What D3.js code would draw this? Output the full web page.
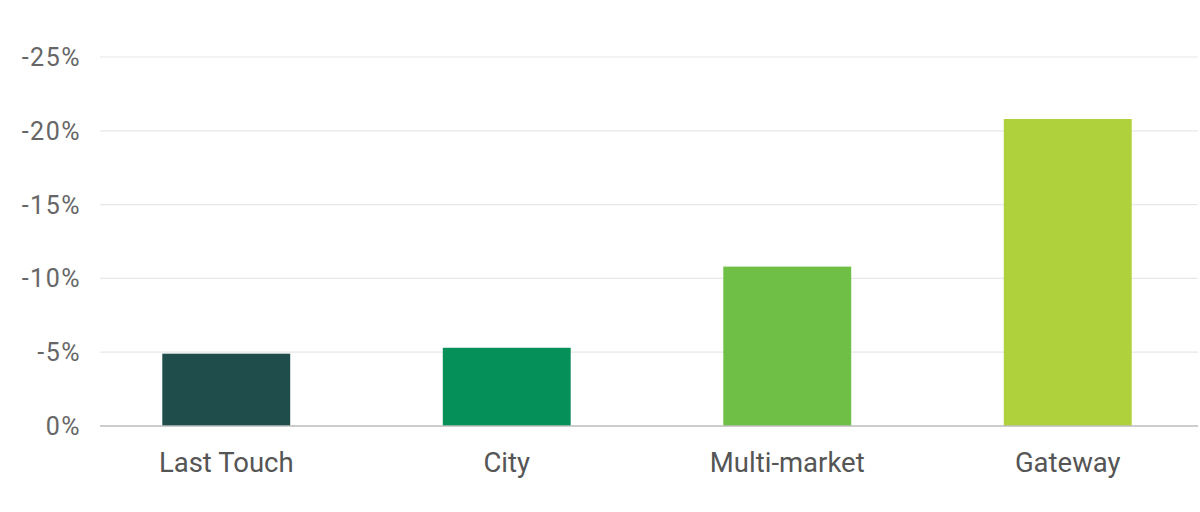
<!DOCTYPE html>
<html><head><meta charset="utf-8">
<script src="https://cdn.jsdelivr.net/npm/d3@7"></script>
<style>body{margin:0;background:#fff;}svg{display:block;font-family:"Roboto","Liberation Sans",Arial,sans-serif;}</style>
</head><body><svg id="c" width="1200" height="512"></svg>
<script>
const categories = ["Last Touch", "City", "Multi-market", "Gateway"];
const values = [-4.9, -5.3, -10.8, -20.8];
const colors = ["#1e4d4b", "#05905a", "#6fbe46", "#afd13b"];
const yTicks = [0, -5, -10, -15, -20, -25];

const svg = d3.select("#c");
const x = d3.scaleBand().domain(categories).range([86, 1208]).paddingInner(0.544).paddingOuter(0.272);
const y = d3.scaleLinear().domain([0, -25]).range([426, 57]);
const gx0 = 100, gx1 = 1198;

svg.append("g").selectAll("line").data(yTicks.filter(d => d !== 0)).join("line")
  .attr("x1", gx0).attr("x2", gx1).attr("y1", d => y(d)).attr("y2", d => y(d))
  .attr("stroke", "#e8e8e8").attr("stroke-width", 1.2);

svg.append("g").selectAll("text").data(yTicks).join("text")
  .attr("x", 81).attr("y", d => y(d)).attr("dy", "0.36em").attr("text-anchor", "end")
  .attr("font-size", 25).attr("letter-spacing", "1.5px").attr("fill", "#666").text(d => d + "%");

svg.append("g").selectAll("rect").data(values).join("rect")
  .attr("x", (d, i) => x(categories[i])).attr("width", x.bandwidth())
  .attr("y", d => Math.min(y(d), y(0))).attr("height", d => Math.abs(y(d) - y(0)))
  .attr("fill", (d, i) => colors[i]);

svg.append("line").attr("x1", gx0).attr("x2", gx1).attr("y1", y(0)).attr("y2", y(0))
  .attr("stroke", "#bdbdbd").attr("stroke-width", 1.5);

svg.append("g").selectAll("text").data(categories).join("text")
  .attr("x", d => x(d) + x.bandwidth() / 2).attr("y", 472).attr("text-anchor", "middle")
  .attr("font-size", 27.5).attr("fill", "#555").text(d => d);
</script></body></html>
